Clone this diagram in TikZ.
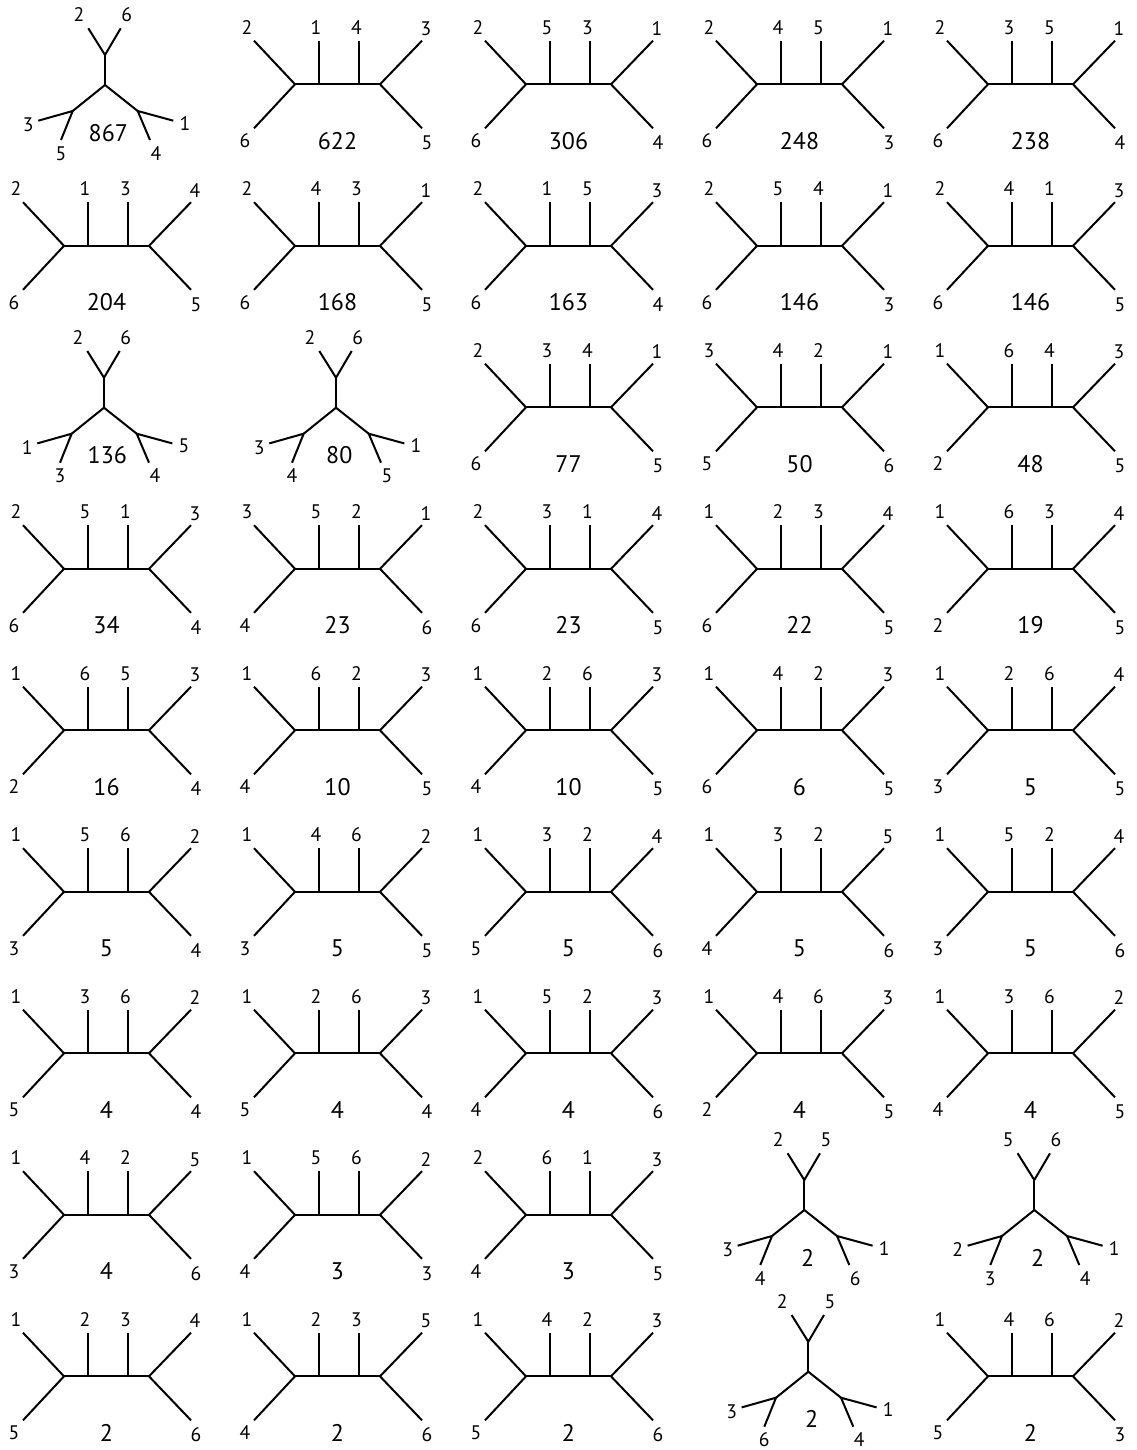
\documentclass[tikz,border=0pt]{standalone}
\usepackage{fontspec}
\setmainfont{PT Sans}
\usetikzlibrary{calc}

\tikzset{
  branch/.style={line width=1pt},
  leaf/.style={font=\fontsize{9.8}{11}\selectfont, inner sep=0pt},
  weight/.style={font=\fontsize{12}{14}\selectfont, inner sep=0pt}
}

% caterpillar tree: column, row, leaves (top left, inner left, inner right, top right, bottom left, bottom right), count
\newcommand{\cattree}[9]{%
  \begin{scope}[shift={({64+231*(#1-1)},{84.3+161.5*(#2-1)})}]
    \coordinate (c#1#2-l) at (0,0);
    \coordinate (c#1#2-r) at (85,0);
    \coordinate (c#1#2-a) at (23.5,0);
    \coordinate (c#1#2-b) at (63.8,0);
    \coordinate (c#1#2-tl) at (-41,-43.6);
    \coordinate (c#1#2-bl) at (-41,44);
    \coordinate (c#1#2-ta) at (23.5,-43.6);
    \coordinate (c#1#2-tb) at (63.8,-43.6);
    \coordinate (c#1#2-tr) at (127,-43.6);
    \coordinate (c#1#2-br) at (127,44);
    \draw[branch] (c#1#2-tl) -- (c#1#2-l) -- (c#1#2-bl);
    \draw[branch] (c#1#2-l) -- (c#1#2-r);
    \draw[branch] (c#1#2-a) -- (c#1#2-ta);
    \draw[branch] (c#1#2-b) -- (c#1#2-tb);
    \draw[branch] (c#1#2-tr) -- (c#1#2-r) -- (c#1#2-br);
    \node[leaf] (c#1#2-n1) at (-48,-57) {#3};
    \node[leaf] (c#1#2-n2) at (21,-57) {#4};
    \node[leaf] (c#1#2-n3) at (61.5,-57) {#5};
    \node[leaf] (c#1#2-n4) at (131,-55.5) {#6};
    \node[leaf] (c#1#2-n5) at (-50,56.5) {#7};
    \node[leaf] (c#1#2-n6) at (132,58.5) {#8};
    \node[weight] (c#1#2-w) at (42.5,56.5) {#9};
  \end{scope}}

% three-cherry tree: name, centre, leaves (top left, top right, left outer, left lower, right outer, right lower), count
\newcommand{\startree}[9]{%
  \begin{scope}[shift={(#2)}]
    \coordinate (#1-c) at (0,0);
    \coordinate (#1-s) at (0,-30);
    \coordinate (#1-ul) at (-16.7,-56.7);
    \coordinate (#1-ur) at (15.7,-56.7);
    \coordinate (#1-l) at (-32.3,26);
    \coordinate (#1-r) at (32.7,26);
    \coordinate (#1-lo) at (-66.7,35.7);
    \coordinate (#1-ll) at (-44,55);
    \coordinate (#1-ro) at (68.3,35.7);
    \coordinate (#1-rl) at (45,55);
    \draw[branch] (#1-ul) -- (#1-s) -- (#1-ur);
    \draw[branch] (#1-s) -- (#1-c);
    \draw[branch] (#1-l) -- (#1-c) -- (#1-r);
    \draw[branch] (#1-lo) -- (#1-l) -- (#1-ll);
    \draw[branch] (#1-ro) -- (#1-r) -- (#1-rl);
    \node[leaf] (#1-n1) at (-26,-70) {#3};
    \node[leaf] (#1-n2) at (21.7,-70) {#4};
    \node[leaf] (#1-n3) at (-76.7,40) {#5};
    \node[leaf] (#1-n4) at (-44,68.3) {#6};
    \node[leaf] (#1-n5) at (80,38.3) {#7};
    \node[leaf] (#1-n6) at (51,68.3) {#8};
    \node[weight] (#1-w) at (3.3,47.7) {#9};
  \end{scope}}

\begin{document}
\begin{tikzpicture}[x=0.5pt, y=-0.5pt]
  \path[use as bounding box, fill=white] (0,0) rectangle (1136,1450);

  % row 1
  \startree{s11}{105,85}{2}{6}{3}{5}{1}{4}{867}
  \cattree{2}{1}{2}{1}{4}{3}{6}{5}{622}
  \cattree{3}{1}{2}{5}{3}{1}{6}{4}{306}
  \cattree{4}{1}{2}{4}{5}{1}{6}{3}{248}
  \cattree{5}{1}{2}{3}{5}{1}{6}{4}{238}

  % row 2
  \cattree{1}{2}{2}{1}{3}{4}{6}{5}{204}
  \cattree{2}{2}{2}{4}{3}{1}{6}{5}{168}
  \cattree{3}{2}{2}{1}{5}{3}{6}{4}{163}
  \cattree{4}{2}{2}{5}{4}{1}{6}{3}{146}
  \cattree{5}{2}{2}{4}{1}{3}{6}{5}{146}

  % row 3
  \startree{s13}{104,407.7}{2}{6}{1}{3}{5}{4}{136}
  \startree{s23}{336,407.7}{2}{6}{3}{4}{1}{5}{80}
  \cattree{3}{3}{2}{3}{4}{1}{6}{5}{77}
  \cattree{4}{3}{3}{4}{2}{1}{5}{6}{50}
  \cattree{5}{3}{1}{6}{4}{3}{2}{5}{48}

  % row 4
  \cattree{1}{4}{2}{5}{1}{3}{6}{4}{34}
  \cattree{2}{4}{3}{5}{2}{1}{4}{6}{23}
  \cattree{3}{4}{2}{3}{1}{4}{6}{5}{23}
  \cattree{4}{4}{1}{2}{3}{4}{6}{5}{22}
  \cattree{5}{4}{1}{6}{3}{4}{2}{5}{19}

  % row 5
  \cattree{1}{5}{1}{6}{5}{3}{2}{4}{16}
  \cattree{2}{5}{1}{6}{2}{3}{4}{5}{10}
  \cattree{3}{5}{1}{2}{6}{3}{4}{5}{10}
  \cattree{4}{5}{1}{4}{2}{3}{6}{5}{6}
  \cattree{5}{5}{1}{2}{6}{4}{3}{5}{5}

  % row 6
  \cattree{1}{6}{1}{5}{6}{2}{3}{4}{5}
  \cattree{2}{6}{1}{4}{6}{2}{3}{5}{5}
  \cattree{3}{6}{1}{3}{2}{4}{5}{6}{5}
  \cattree{4}{6}{1}{3}{2}{5}{4}{6}{5}
  \cattree{5}{6}{1}{5}{2}{4}{3}{6}{5}

  % row 7
  \cattree{1}{7}{1}{3}{6}{2}{5}{4}{4}
  \cattree{2}{7}{1}{2}{6}{3}{5}{4}{4}
  \cattree{3}{7}{1}{5}{2}{3}{4}{6}{4}
  \cattree{4}{7}{1}{4}{6}{3}{2}{5}{4}
  \cattree{5}{7}{1}{3}{6}{2}{4}{5}{4}

  % row 8
  \cattree{1}{8}{1}{4}{2}{5}{3}{6}{4}
  \cattree{2}{8}{1}{5}{6}{2}{4}{3}{3}
  \cattree{3}{8}{2}{6}{1}{3}{4}{5}{3}
  \startree{s48}{804.3,1210}{2}{5}{3}{4}{1}{6}{2}
  \startree{s58}{1034.3,1210}{5}{6}{2}{3}{1}{4}{2}

  % row 9
  \cattree{1}{9}{1}{2}{3}{4}{5}{6}{2}
  \cattree{2}{9}{1}{2}{3}{5}{4}{6}{2}
  \cattree{3}{9}{1}{4}{2}{3}{5}{6}{2}
  \startree{s49}{808.3,1371.7}{2}{5}{3}{6}{1}{4}{2}
  \cattree{5}{9}{1}{4}{6}{2}{5}{3}{2}

\end{tikzpicture}
\end{document}
